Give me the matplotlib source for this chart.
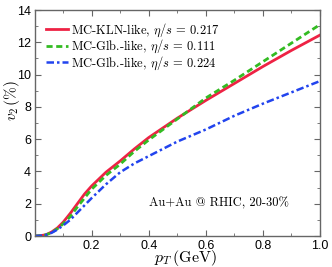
import numpy as np
import matplotlib
matplotlib.use("Agg")
import matplotlib.pyplot as plt
from matplotlib.ticker import MultipleLocator

plt.rcParams['mathtext.fontset'] = 'cm'
plt.rcParams['font.family'] = ['Liberation Sans', 'DejaVu Sans']

# Daten
pt = [0, 0.02, 0.04, 0.06, 0.08, 0.1, 0.125, 0.15, 0.175, 0.2, 0.25, 0.3, 0.35, 0.4,
      0.5, 0.6, 0.7, 0.8, 0.9, 1.0]
v2_kln = [0, 0.02, 0.08, 0.25, 0.5, 0.85, 1.4, 2.0, 2.6, 3.1, 3.95, 4.65, 5.4, 6.1,
          7.3, 8.4, 9.45, 10.5, 11.5, 12.45]
v2_glb1 = [0, 0.02, 0.07, 0.22, 0.45, 0.75, 1.2, 1.8, 2.35, 2.9, 3.75, 4.45, 5.25, 5.95,
           7.25, 8.55, 9.65, 10.8, 11.95, 13.1]
v2_glb2 = [0, 0.02, 0.07, 0.2, 0.4, 0.65, 1.0, 1.45, 1.9, 2.35, 3.2, 3.95, 4.5, 4.95,
           5.85, 6.6, 7.45, 8.2, 8.9, 9.6]
labels = [r'MC-KLN-like, $\eta$/$s$ = 0.217',
          r'MC-Glb.-like, $\eta$/$s$ = 0.111',
          r'MC-Glb.-like, $\eta$/$s$ = 0.224']

fig = plt.figure(figsize=(3.32, 2.67), dpi=100)
ax = fig.add_axes([0.104, 0.116, 0.86, 0.8465])

ax.plot(pt, v2_kln, color='#ee2244', lw=2.0, ls='-', label=labels[0])
ax.plot(pt, v2_glb1, color='#33bb22', lw=2.0, ls=(0, (2.2, 1.3)), label=labels[1])
ax.plot(pt, v2_glb2, color='#2244ee', lw=1.8, ls=(0, (3, 1.2, 1, 1.2)), label=labels[2])

ax.set_xlim(0, 1.0)
ax.set_ylim(0, 14)
ax.xaxis.set_minor_locator(MultipleLocator(0.1))
ax.yaxis.set_major_locator(MultipleLocator(2))
ax.yaxis.set_minor_locator(MultipleLocator(1))
ax.set_xticks([0.2, 0.4, 0.6, 0.8, 1.0])
ax.set_xticklabels(['0.2', '0.4', '0.6', '0.8', '1.0'])
ax.tick_params(which='both', direction='in', top=True, right=True, labelsize=9,
               color='#666666', pad=2.5)
ax.tick_params(which='major', length=4)
ax.tick_params(which='minor', length=2.5)
for s in ax.spines.values():
    s.set_color('#666666')
    s.set_linewidth(1.0)

ax.set_xlabel(r'$p_T\,(\mathrm{GeV})$', fontsize=11.5)
ax.xaxis.set_label_coords(0.53, -0.054)
ax.set_ylabel(r'$v_2\,(\%)$', fontsize=11)
ax.yaxis.set_label_coords(-0.044, 0.6)

leg = ax.legend(loc='upper left', frameon=False, handlelength=1.8,
                handletextpad=0.25, labelspacing=-0.05, borderaxespad=0.5,
                prop={'family': 'cmr10', 'size': 9})
ax.text(0.4, 0.13, 'Au+Au @ RHIC, 20-30%', transform=ax.transAxes,
        fontsize=9, family='cmr10')

fig.savefig('out.png', dpi=100)
